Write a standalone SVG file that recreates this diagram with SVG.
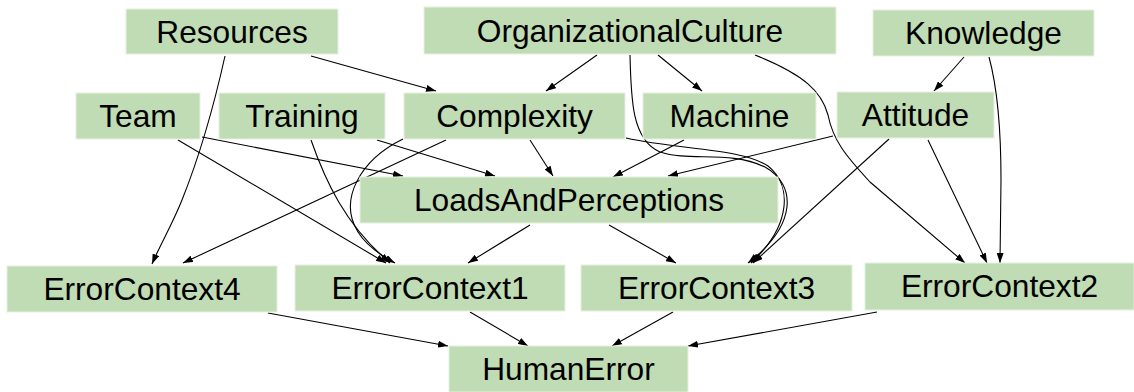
<svg xmlns="http://www.w3.org/2000/svg" width="1134" height="392" viewBox="0 0 1134 392">
  <style>
    .node rect { fill: #c0dcb4; stroke: #e6f0e0; stroke-width: 1; }
    .node text { font-family: "Liberation Sans", Arial, sans-serif; font-size: 31.7px; fill: #000; text-anchor: middle; }
    .edges path { fill: none; stroke: #000; stroke-width: 1.1; marker-end: url(#arrow); }
  </style>
  <defs>
    <marker id="arrow" markerWidth="10" markerHeight="7" refX="10" refY="3.5" orient="auto" markerUnits="userSpaceOnUse">
      <path d="M0,0 L10,3.5 L0,7 z" fill="#000"/>
    </marker>
  </defs>
  <rect width="1134" height="392" fill="#fff"/>

  <!-- connectors -->
  <g id="edges" class="edges">
    <path d="M311,56 L436,91"/>
    <path d="M225,56 C213,110 198,160 182,200 C172,225 160,245 152,264"/>
    <path d="M597,55 L546,91"/>
    <path d="M658,55 L702,91"/>
    <path d="M630,55 C631,100 632,140 660,152 C690,162 730,150 765,167 C797,185 797,225 748,263"/>
    <path d="M755,55 C805,75 822,92 828,115 C833,140 845,155 870,182 L965,263"/>
    <path d="M964,57 L934,91"/>
    <path d="M989,57 C998,90 1001,130 1001,180 L1000,263"/>
    <path d="M833,136 L668,176"/>
    <path d="M889,139 L753,263"/>
    <path d="M928,140 L987,263"/>
    <path d="M202,137 L403,176"/>
    <path d="M178,140 L386,263"/>
    <path d="M377,140 L495,176"/>
    <path d="M311,140 C325,180 345,225 390,263"/>
    <path d="M530,140 L553,176"/>
    <path d="M446,140 L183,263"/>
    <path d="M403,139 C360,160 338,200 358,232 C366,245 380,255 395,263"/>
    <path d="M626,138 C680,150 740,148 768,166 C792,185 792,225 751,263"/>
    <path d="M684,140 L613,177"/>
    <path d="M530,225 L468,263"/>
    <path d="M609,225 L676,263"/>
    <path d="M268,313 L448,346"/>
    <path d="M470,312 L528,346"/>
    <path d="M673,312 L612,346"/>
    <path d="M877,312 L688,346"/>
  </g>

  <!-- nodes -->
  <g id="Resources" class="node"><rect x="126" y="9" width="212" height="45"/><text x="232" y="43">Resources</text></g>
  <g id="OrganizationalCulture" class="node"><rect x="424" y="7" width="412" height="47"/><text x="630" y="42">OrganizationalCulture</text></g>
  <g id="Knowledge" class="node"><rect x="873" y="10" width="221" height="46"/><text x="983.5" y="44">Knowledge</text></g>
  <g id="Team" class="node"><rect x="76" y="93" width="124" height="46"/><text x="138" y="127">Team</text></g>
  <g id="Training" class="node"><rect x="219" y="93" width="166" height="46"/><text x="302" y="127">Training</text></g>
  <g id="Complexity" class="node"><rect x="404" y="93" width="221" height="46"/><text x="514.5" y="127">Complexity</text></g>
  <g id="Machine" class="node"><rect x="643" y="93" width="173" height="46"/><text x="729.5" y="127">Machine</text></g>
  <g id="Attitude" class="node"><rect x="837" y="92" width="157" height="46"/><text x="915.5" y="126">Attitude</text></g>
  <g id="LoadsAndPerceptions" class="node"><rect x="360" y="177" width="418" height="46"/><text x="569" y="211">LoadsAndPerceptions</text></g>
  <g id="ErrorContext4" class="node"><rect x="7" y="266" width="270" height="46"/><text x="142" y="300">ErrorContext4</text></g>
  <g id="ErrorContext1" class="node"><rect x="295" y="265" width="270" height="46"/><text x="430" y="299">ErrorContext1</text></g>
  <g id="ErrorContext3" class="node"><rect x="581" y="265" width="271" height="46"/><text x="716.5" y="299">ErrorContext3</text></g>
  <g id="ErrorContext2" class="node"><rect x="865" y="263" width="269" height="47"/><text x="999.5" y="297">ErrorContext2</text></g>
  <g id="HumanError" class="node"><rect x="449" y="346" width="239" height="46"/><text x="568.5" y="380">HumanError</text></g>
</svg>
